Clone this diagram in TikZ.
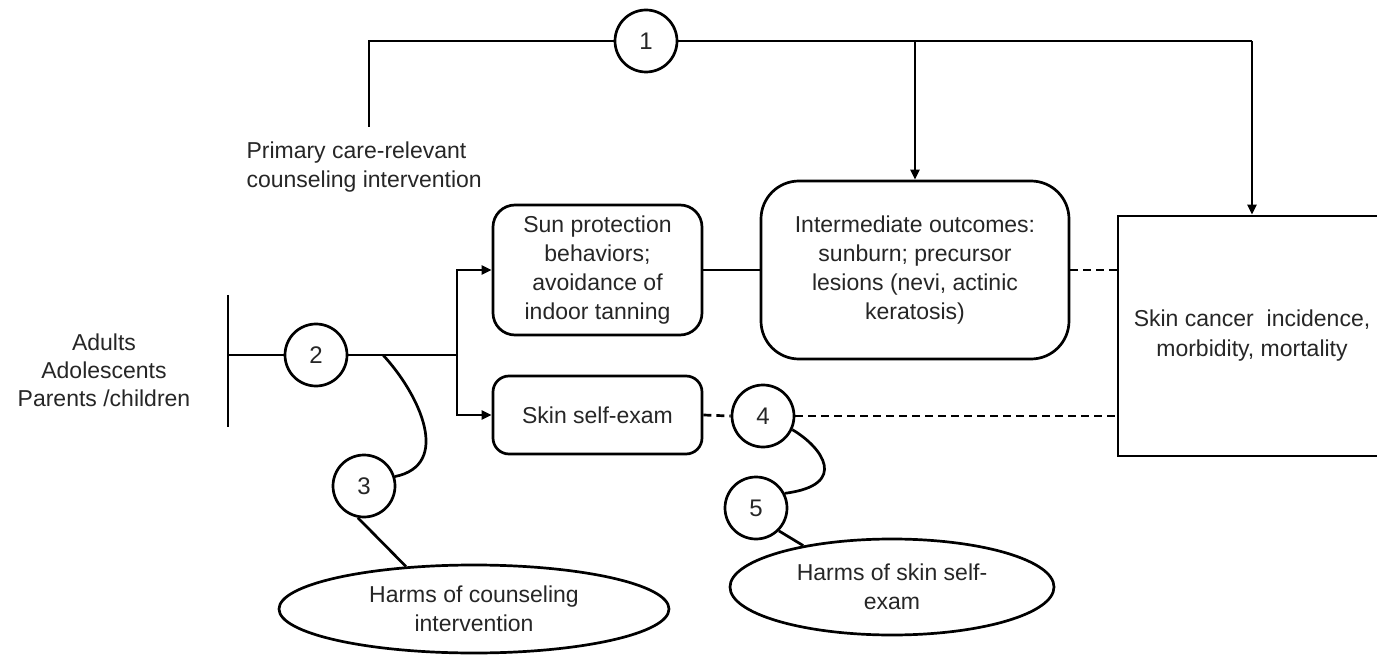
\documentclass[tikz,border=0pt]{standalone}
\usepackage{fontspec}
\setmainfont{Liberation Sans}
\usetikzlibrary{arrows.meta,shapes.geometric,calc}
\begin{document}
\begin{tikzpicture}[x=1pt,y=-1pt,
  every node/.style={font=\fontsize{23}{29}\selectfont, text=black!85},
  ln/.style={line width=2.7pt, black},
  arr/.style={ln, -{Triangle[length=10pt,width=9pt]}},
  dsh/.style={ln, dash pattern=on 8pt off 5pt},
  rbox/.style={draw, line width=2.7pt, rounded corners=#1, align=center, inner sep=0pt},
  numc/.style={draw, circle, line width=2.7pt, minimum size=62pt, inner sep=0pt, font=\fontsize{24}{24}\selectfont},
  harm/.style={draw, ellipse, line width=2.7pt, align=center, inner sep=0pt}
]
\useasboundingbox (0,0) rectangle (1377,655);
\fill[white] (0,0) rectangle (1377,655);

% boxes
\node[rbox=22pt, minimum width=209pt, minimum height=130pt] (sun) at (597.5,270)
  {Sun protection\\behaviors;\\avoidance of\\indoor tanning};
\node[rbox=38pt, minimum width=308pt, minimum height=178pt] (int) at (915,270)
  {Intermediate outcomes:\\sunburn; precursor\\lesions (nevi, actinic\\keratosis)};
\node[rbox=16pt, minimum width=209pt, minimum height=78pt] (self) at (597.5,415)
  {Skin self-exam};
\node[draw, line width=2.7pt, minimum width=268pt, minimum height=240pt, align=center, inner sep=0pt,
  font=\fontsize{23}{30}\selectfont] (canc) at (1252,336)
  {Skin cancer\ \ incidence,\\morbidity, mortality};

% circles
\node[numc] (c1) at (646,41) {1};
\node[numc] (c2) at (316,355) {2};
\node[numc] (c3) at (364,486) {3};
\node[numc] (c4) at (763,416) {4};
\node[numc] (c5) at (756,508) {5};

% ellipses
\node[harm, minimum width=390pt, minimum height=88pt] (h1) at (474,609)
  {Harms of counseling\\intervention};
\node[harm, minimum width=324pt, minimum height=96pt] (h2) at (892,587)
  {Harms of skin self-\\exam};

% texts
\node[anchor=west, align=left] (pc) at (243,167)
  {Primary care-relevant\\counseling intervention};
\node[align=center, font=\fontsize{23}{28}\selectfont] (pop) at (104,370)
  {Adults\\Adolescents\\Parents /children};

% coordinates
\coordinate (bt) at (228,295);
\coordinate (bb) at (228,427);
\coordinate (bm) at (228,355);
\coordinate (sp) at (457,355);
\coordinate (k3) at (383,355);
\coordinate (p0) at (369,127);
\coordinate (t1) at (369,41);
\coordinate (t2) at (1252,41);

% population bar and key question 2
\draw[ln] (bt) -- (bb);
\draw[ln] (bm) -- (c2.west);
\draw[ln] (c2.east) -- (sp);
\draw[arr] (sp) |- (sun.west);
\draw[arr] (sp) |- (self.west);

% key question 1
\draw[ln] (p0) -- (t1) -- (c1.west);
\draw[ln] (c1.east) -- (t2);
\draw[arr] (c1.east -| int.north) -- (int.north);
\draw[arr] (t2) -- (canc.north);

% chain
\draw[ln] (sun.east) -- (sun.east -| int.west);
\draw[dsh] (int.east) -- (int.east -| canc.west);
\draw[dsh] (self.east) -- (c4.west);
\draw[dsh] (c4.east) -- (c4.east -| canc.west);

% harms
\draw[ln] (k3) .. controls (420,395) and (452,465) .. (c3.17);
\draw[ln] (c3.259) -- (h1.148);
\draw[ln] (c4.335) .. controls (822,447) and (850,485) .. (c5.27);
\draw[ln] (c5.315) -- (h2.155);
\end{tikzpicture}
\end{document}
